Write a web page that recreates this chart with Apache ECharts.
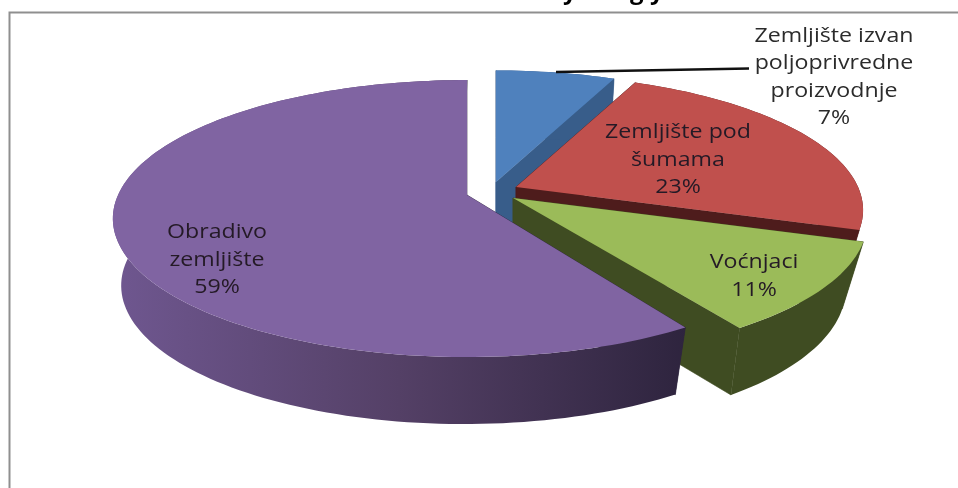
<!DOCTYPE html>
<html>
<head>
<meta charset="utf-8">
<title>Zemljište</title>
<style>
  html, body { margin: 0; padding: 0; background: #fff; }
  #chart { width: 958px; height: 488px; }
</style>
<script src="https://cdn.jsdelivr.net/npm/echarts@6/dist/echarts.min.js"></script>
</head>
<body>
<div id="chart"></div>
<script>
// values, blue and red split estimated from the slice edges
var categories = ['Zemljište izvan\npoljoprivredne\nproizvodnje', 'Zemljište pod\nšumama', 'Voćnjaci', 'Obradivo\nzemljište'];
var values = [6.6, 23.4, 11, 59];
var percentLabels = ['7%', '23%', '11%', '59%'];

var topColors = ['#4f81bd', '#c0504d', '#9bbb59', '#8064a2'];
var sideColors = ['#385d8a', '#4e1c1c', '#3f4c22', '#5a4675'];

// where each exploded slice has its tip, in px
var tips = [[496, 182], [516, 187], [513, 198], [467, 195]];
var radiusScale = [0.97, 0.98, 1, 1];
var endTrim = [0, 0, 1.5, 0];
var bottomScaleX = [0.968, 0.9, 0.9, 0.968];
var bottomShiftX = [0, 14, 14, -3];
var labelCenters = [[834, 77], [678, 160], [754, 276], [217, 260]];

// tilted pie: perspective circle
var radiusX = 349, radiusY = 134.5, tilt = 0.17;
var depth = 67;

var total = values.reduce(function (a, b) { return a + b; }, 0);

function rimPoint(i, deg) {
  var t = deg * Math.PI / 180;
  var w = 1 + tilt * Math.cos(t);
  return [radiusScale[i] * radiusX * Math.sin(t) / w, -radiusScale[i] * radiusY * Math.cos(t) / w];
}
function rimPoints(i, from, to) {
  var pts = [];
  var n = Math.ceil((to - from) / 1.5);
  for (var k = 0; k <= n; k++) {
    pts.push(rimPoint(i, from + (to - from) * k / n));
  }
  return pts;
}
function toTop(i, p) { return [tips[i][0] + p[0], tips[i][1] + p[1]]; }
function toBottom(i, p) { return [tips[i][0] + p[0] * bottomScaleX[i] + bottomShiftX[i], tips[i][1] + p[1] + depth]; }

function renderSlice(params, api) {
  var i = params.dataIndex;
  var from = 0;
  for (var j = 0; j < i; j++) from += values[j] / total * 360;
  var to = from + api.value(0) / total * 360 - endTrim[i];
  var rim = rimPoints(i, from, to);

  var topRim = rim.map(function (p) { return toTop(i, p); });
  var bottomRim = rim.map(function (p) { return toBottom(i, p); }).reverse();
  var sideFill = sideColors[i];
  if (i === 3) {
    sideFill = new echarts.graphic.LinearGradient(0, 0, 1, 0, [
      { offset: 0, color: '#6f5790' },
      { offset: 0.5, color: '#544066' },
      { offset: 1, color: '#2e243e' }
    ]);
  }

  var children = [];
  // cut faces first, then outer wall, top face last
  var tipTop = tips[i];
  var tipBottom = [tipTop[0], tipTop[1] + depth];
  var cutColor = i === 3 ? '#2e243e' : sideColors[i];
  [rim[0], rim[rim.length - 1]].forEach(function (p) {
    children.push({
      type: 'polygon',
      shape: { points: [tipTop, toTop(i, p), toBottom(i, p), tipBottom] },
      style: { fill: cutColor, stroke: cutColor, lineWidth: 0.6 }
    });
  });
  children.push({
    type: 'polygon',
    shape: { points: topRim.concat(bottomRim) },
    style: { fill: sideFill }
  });
  children.push({
    type: 'polygon',
    shape: { points: [tipTop].concat(topRim) },
    style: { fill: topColors[i] }
  });
  return { type: 'group', children: children };
}

function renderLabel(params) {
  var i = params.dataIndex;
  return {
    type: 'text',
    z2: 10,
    x: labelCenters[i][0],
    y: labelCenters[i][1],
    scaleX: 1.13,
    style: {
      x: 0,
      y: 0,
      text: categories[i] + '\n' + percentLabels[i],
      align: 'center',
      verticalAlign: 'middle',
      font: '20.5px "Open Sans"',
      lineHeight: 27.5,
      fill: i === 0 ? '#2b2b2b' : '#241a26'
    }
  };
}

var chart = echarts.init(document.getElementById('chart'), null, { renderer: 'canvas' });
chart.setOption({
  backgroundColor: '#fff',
  animation: false,
  graphic: [
    {
      type: 'polyline',
      shape: { points: [[9.5, 488], [9.5, 12.5], [958, 12.5]] },
      style: { stroke: '#8f8f8f', lineWidth: 2, fill: 'none' }
    },
    {
      type: 'text',
      z: 1,
      style: { x: 563, y: -20, text: 'y', font: 'bold 24px "Open Sans"', fill: '#000' }
    },
    {
      type: 'text',
      z: 1,
      style: { x: 630, y: -20, text: 'g', font: 'bold 24px "Open Sans"', fill: '#000' }
    },
    {
      type: 'text',
      z: 1,
      style: { x: 650, y: -20, text: 'y', font: 'bold 24px "Open Sans"', fill: '#000' }
    },
    {
      type: 'line',
      z: 20,
      shape: { x1: 556, y1: 72, x2: 749, y2: 68.5 },
      style: { stroke: '#111', lineWidth: 2.4 }
    }
  ],
  series: [
    {
      type: 'custom',
      coordinateSystem: 'none',
      silent: true,
      renderItem: renderSlice,
      data: values.map(function (v) { return [v]; })
    },
    {
      type: 'custom',
      coordinateSystem: 'none',
      silent: true,
      z: 5,
      renderItem: renderLabel,
      data: values.map(function (v) { return [v]; })
    }
  ]
});
</script>
</body>
</html>
